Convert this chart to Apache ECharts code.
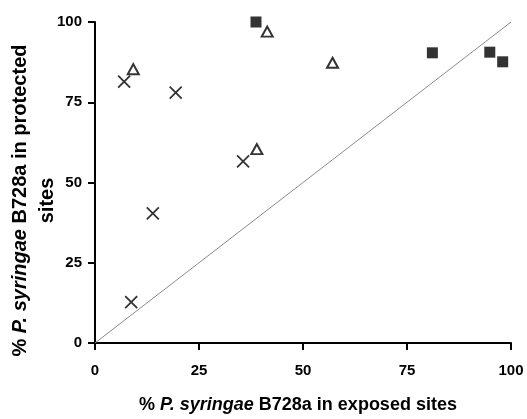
<!DOCTYPE html>
<html><head><meta charset="utf-8">
<script src="https://cdn.jsdelivr.net/npm/echarts@6/dist/echarts.min.js"></script>
<style>html,body{margin:0;padding:0;background:#fff}#c{width:527px;height:419px}</style>
</head><body><div id="c"></div>
<script>
// Filled squares
const squares = [[38.7, 100], [81.1, 90.4], [94.9, 90.6], [98.0, 87.6]];
// Open triangles
const triangles = [[41.4, 97.0], [57.1, 87.3], [9.2, 85.3], [38.9, 60.4]];
// Crosses
const crosses = [[7.0, 81.4], [19.4, 78.0], [35.6, 56.6], [13.9, 40.4], [8.7, 12.7]];
// 1:1 reference line
const identity = [[0, 0], [100, 100]];
const ticks = [0, 25, 50, 75, 100];

const font = '"Liberation Sans", Arial, sans-serif';
function richFor(size, lh) {
  return {
    n: {fontFamily: font, fontWeight: 'bold', fontSize: size, lineHeight: lh, color: '#000'},
    i: {fontFamily: font, fontWeight: 'bold', fontStyle: 'italic', fontSize: size, lineHeight: lh, color: '#000'}
  };
}
const axisCommon = {
  type: 'value', min: 0, max: 100, interval: 25,
  splitLine: {show: false},
  axisLine: {show: true, onZero: false, lineStyle: {color: '#000', width: 2}},
  axisTick: {show: true, length: 7, lineStyle: {color: '#000', width: 2}},
  nameLocation: 'middle',
  nameMoveOverlap: false
};
const chart = echarts.init(document.getElementById('c'));
chart.setOption({
  animation: false,
  backgroundColor: '#fff',
  grid: {left: 95, right: 16, top: 22, bottom: 76, outerBoundsMode: 'none', containLabel: false},
  xAxis: Object.assign({}, axisCommon, {
    name: '{n|% }{i|P. syringae}{n| B728a in exposed sites}',
    nameGap: 52,
    nameTextStyle: {rich: richFor(18, 20), padding: [0, 10, 0, 0]},
    axisLabel: {fontFamily: font, fontWeight: 'bold', fontSize: 15, color: '#000', margin: 20,
      formatter: v => ticks.includes(v) ? String(v) : ''}
  }),
  yAxis: Object.assign({}, axisCommon, {
    name: '{n|% }{i|P. syringae}{n| B728a in protected}\n{n|sites}',
    nameGap: 34,
    nameRotate: 90,
    nameTextStyle: {rich: richFor(20, 27), lineHeight: 27, padding: [0, 36, 0, 0]},
    axisLabel: {fontFamily: font, fontWeight: 'bold', fontSize: 15, color: '#000', margin: 13,
      formatter: v => ticks.includes(v) ? String(v) : ''}
  }),
  series: [
    {type: 'line', data: identity, symbol: 'none', silent: true,
      lineStyle: {color: '#8a8a8a', width: 1}, z: 1},
    {type: 'scatter', data: squares, symbol: 'rect', symbolSize: 11,
      itemStyle: {color: '#000'}, z: 3},
    {type: 'scatter', data: triangles, symbol: 'triangle', symbolSize: [11, 10],
      itemStyle: {color: '#fff', borderColor: '#000', borderWidth: 2}, z: 3},
    {type: 'scatter', data: crosses, symbol: 'path://M0,0L10,10M10,0L0,10', symbolSize: 12,
      itemStyle: {color: '#000', borderColor: '#000', borderWidth: 1.8}, z: 3}
  ]
});
</script></body></html>
